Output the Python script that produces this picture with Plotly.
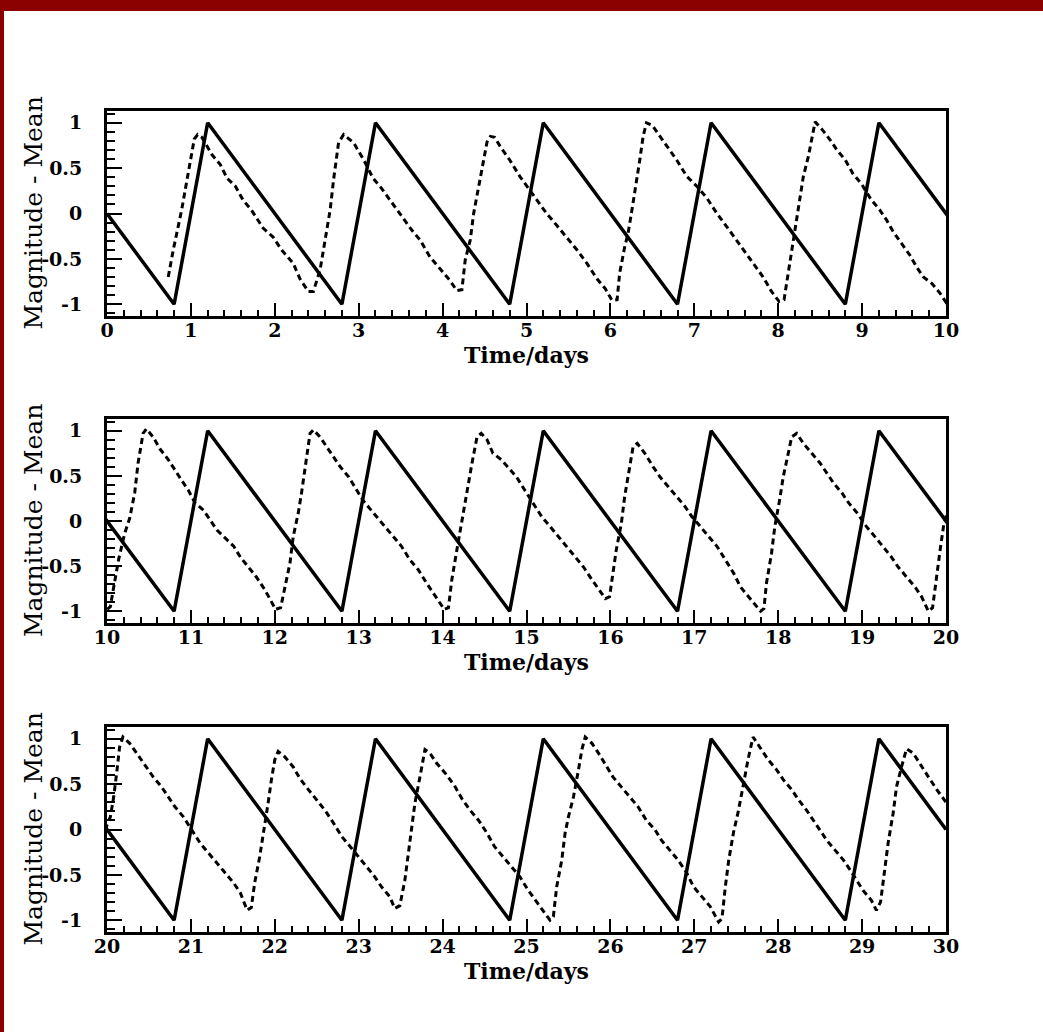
import plotly.graph_objects as go

# ---------------- data ----------------
solid_x = [0, 0.8, 1.2, 2.8, 3.2, 4.8, 5.2, 6.8, 7.2, 8.8, 9.2,
           10.8, 11.2, 12.8, 13.2, 14.8, 15.2, 16.8, 17.2, 18.8, 19.2,
           20.8, 21.2, 22.8, 23.2, 24.8, 25.2, 26.8, 27.2, 28.8, 29.2, 30]
solid_y = [0, -1, 1, -1, 1, -1, 1, -1, 1, -1, 1,
           -1, 1, -1, 1, -1, 1, -1, 1, -1, 1,
           -1, 1, -1, 1, -1, 1, -1, 1, -1, 1, 0]

dashed_x = [
    0.73, 0.79, 0.89, 0.99, 1.04, 1.08, 1.13, 1.25, 1.35, 1.43, 1.53, 1.62, 1.72, 1.86, 1.98,
    2.08, 2.22, 2.30, 2.40, 2.46, 2.54, 2.60, 2.66, 2.70, 2.76, 2.82, 2.94, 3.06, 3.17, 3.27,
    3.37, 3.49, 3.63, 3.73, 3.85, 3.97, 4.08, 4.17, 4.23, 4.27, 4.33, 4.37, 4.43, 4.47, 4.53,
    4.57, 4.62, 4.70, 4.80, 4.92, 5.02, 5.12, 5.24, 5.36, 5.48, 5.60, 5.72, 5.84, 5.94, 6.02,
    6.08, 6.11, 6.17, 6.21, 6.25, 6.31, 6.35, 6.39, 6.43, 6.50, 6.59, 6.71, 6.79, 6.91, 7.03,
    7.15, 7.27, 7.39, 7.49, 7.58, 7.70, 7.82, 7.92, 8.01, 8.07, 8.12, 8.16, 8.20, 8.26, 8.30,
    8.36, 8.40, 8.44, 8.52, 8.62, 8.70, 8.80, 8.89, 8.99, 9.11, 9.21, 9.29, 9.37, 9.47, 9.57,
    9.65, 9.73, 9.83, 9.93,
    10.00, 10.04, 10.08, 10.14, 10.21, 10.27, 10.33, 10.37, 10.43, 10.47, 10.55, 10.63, 10.73,
    10.81, 10.89, 10.97, 11.05, 11.15, 11.23, 11.31, 11.41, 11.51, 11.59, 11.68, 11.78, 11.88,
    11.94, 12.01, 12.07, 12.12, 12.18, 12.22, 12.28, 12.32, 12.38, 12.42, 12.46, 12.54, 12.62,
    12.70, 12.78, 12.88, 12.96, 13.05, 13.13, 13.21, 13.31, 13.41, 13.51, 13.61, 13.71, 13.81,
    13.89, 14.02, 14.07, 14.11, 14.17, 14.23, 14.29, 14.35, 14.41, 14.46, 14.53, 14.60, 14.70,
    14.78, 14.88, 14.98, 15.08, 15.18, 15.28, 15.38, 15.48, 15.58, 15.68, 15.78, 15.88, 15.94,
    15.99, 16.03, 16.07, 16.13, 16.17, 16.23, 16.27, 16.32, 16.41, 16.51, 16.59, 16.69, 16.79,
    16.89, 16.97, 17.07, 17.17, 17.27, 17.37, 17.47, 17.55, 17.67, 17.79, 17.83, 17.86, 17.92,
    17.96, 18.02, 18.06, 18.12, 18.16, 18.22, 18.30, 18.40, 18.50, 18.58, 18.66, 18.76, 18.84,
    18.94, 19.05, 19.15, 19.25, 19.35, 19.43, 19.53, 19.63, 19.71, 19.79, 19.84, 19.89, 19.93,
    19.97,
    20.00, 20.04, 20.08, 20.12, 20.15, 20.19, 20.27, 20.37, 20.47, 20.55, 20.65, 20.73, 20.81,
    20.91, 21.01, 21.11, 21.21, 21.31, 21.41, 21.51, 21.59, 21.67, 21.72, 21.76, 21.82, 21.88,
    21.92, 21.96, 22.00, 22.04, 22.12, 22.22, 22.30, 22.40, 22.50, 22.60, 22.70, 22.80, 22.90,
    23.00, 23.10, 23.19, 23.27, 23.37, 23.43, 23.49, 23.55, 23.59, 23.63, 23.67, 23.73, 23.79,
    23.85, 23.93, 24.05, 24.15, 24.23, 24.33, 24.43, 24.53, 24.62, 24.72, 24.82, 24.92, 25.02,
    25.12, 25.20, 25.28, 25.32, 25.36, 25.42, 25.46, 25.50, 25.56, 25.62, 25.66, 25.70, 25.78,
    25.86, 25.96, 26.03, 26.13, 26.23, 26.33, 26.43, 26.53, 26.61, 26.71, 26.81, 26.91, 26.99,
    27.09, 27.19, 27.29, 27.33, 27.37, 27.41, 27.47, 27.52, 27.58, 27.64, 27.70, 27.78, 27.88,
    27.98, 28.06, 28.16, 28.24, 28.34, 28.42, 28.50, 28.58, 28.68, 28.78, 28.86, 28.94, 29.01,
    29.11, 29.17, 29.22, 29.27, 29.31, 29.37, 29.41, 29.47, 29.53, 29.61, 29.69, 29.79, 29.89,
    29.97, 30.00]
dashed_y = [
    -0.70, -0.40, 0.04, 0.55, 0.82, 0.87, 0.84, 0.65, 0.54, 0.39, 0.30, 0.15, 0.04, -0.16, -0.26,
    -0.40, -0.55, -0.72, -0.86, -0.86, -0.62, -0.29, 0.04, 0.37, 0.78, 0.87, 0.78, 0.59, 0.39, 0.28,
    0.15, 0.00, -0.18, -0.29, -0.48, -0.61, -0.73, -0.85, -0.84, -0.51, -0.29, 0.00, 0.30, 0.52, 0.79,
    0.85, 0.84, 0.72, 0.59, 0.41, 0.28, 0.15, 0.00, -0.13, -0.26, -0.40, -0.55, -0.72, -0.83, -0.96,
    -0.95, -0.66, -0.37, -0.22, 0.00, 0.33, 0.59, 0.85, 1.00, 0.97, 0.85, 0.70, 0.59, 0.41, 0.30,
    0.17, 0.00, -0.15, -0.28, -0.40, -0.55, -0.70, -0.86, -0.97, -0.95, -0.66, -0.44, -0.16, 0.15, 0.41,
    0.63, 0.83, 1.01, 0.93, 0.81, 0.70, 0.59, 0.44, 0.33, 0.15, 0.04, -0.07, -0.20, -0.33, -0.46,
    -0.59, -0.70, -0.77, -0.88,
    -0.98, -0.95, -0.73, -0.42, -0.14, 0.03, 0.31, 0.64, 0.97, 1.02, 0.93, 0.80, 0.68,
    0.56, 0.45, 0.34, 0.20, 0.12, 0.01, -0.10, -0.19, -0.28, -0.40, -0.51, -0.62, -0.76,
    -0.87, -0.98, -0.96, -0.73, -0.47, -0.17, 0.09, 0.32, 0.69, 0.97, 1.01, 0.93, 0.82,
    0.71, 0.60, 0.49, 0.36, 0.23, 0.14, 0.05, -0.06, -0.17, -0.28, -0.43, -0.54, -0.69,
    -0.80, -0.98, -0.96, -0.65, -0.32, 0.01, 0.34, 0.64, 0.93, 0.97, 0.90, 0.75, 0.68,
    0.60, 0.49, 0.34, 0.20, 0.05, -0.06, -0.17, -0.28, -0.40, -0.51, -0.65, -0.78, -0.86,
    -0.84, -0.58, -0.32, -0.03, 0.27, 0.60, 0.82, 0.86, 0.75, 0.60, 0.49, 0.38, 0.27,
    0.16, 0.05, -0.06, -0.17, -0.28, -0.43, -0.58, -0.73, -0.86, -1.00, -0.97, -0.69, -0.36,
    -0.06, 0.25, 0.49, 0.75, 0.93, 0.97, 0.86, 0.75, 0.64, 0.53, 0.42, 0.31, 0.20,
    0.09, -0.06, -0.17, -0.28, -0.40, -0.51, -0.62, -0.73, -0.84, -1.00, -0.96, -0.58, -0.32,
    -0.06,
    0.05, 0.14, 0.36, 0.66, 0.91, 1.02, 0.95, 0.82, 0.69, 0.58, 0.47, 0.36, 0.25,
    0.14, 0.00, -0.15, -0.26, -0.37, -0.48, -0.59, -0.70, -0.89, -0.86, -0.59, -0.30, 0.03,
    0.29, 0.55, 0.77, 0.86, 0.80, 0.69, 0.56, 0.44, 0.33, 0.21, 0.07, -0.08, -0.19,
    -0.30, -0.41, -0.52, -0.63, -0.74, -0.87, -0.84, -0.56, -0.26, 0.03, 0.29, 0.58, 0.88,
    0.84, 0.73, 0.60, 0.47, 0.34, 0.21, 0.10, -0.04, -0.19, -0.30, -0.41, -0.52, -0.67,
    -0.80, -0.89, -1.00, -0.96, -0.63, -0.34, -0.04, 0.14, 0.36, 0.66, 0.88, 1.02, 0.95,
    0.84, 0.69, 0.58, 0.47, 0.36, 0.25, 0.10, 0.00, -0.12, -0.23, -0.34, -0.48, -0.63,
    -0.74, -0.85, -1.02, -0.98, -0.63, -0.34, -0.02, 0.18, 0.47, 0.77, 1.02, 0.91, 0.77,
    0.66, 0.55, 0.44, 0.33, 0.21, 0.10, 0.00, -0.12, -0.23, -0.34, -0.45, -0.56, -0.67,
    -0.78, -0.89, -0.80, -0.41, -0.15, 0.18, 0.47, 0.69, 0.89, 0.84, 0.73, 0.58, 0.44,
    0.33, 0.30]

x_ranges = [[0, 10], [10, 20], [20, 30]]
y_tickvals = [-1, -0.5, 0, 0.5, 1]
y_ticktext = ["-1", "-0.5", "0", "0.5", "1"]
x_title = "Time/days"
y_title = "Magnitude - Mean"

# ---------------- layout geometry ----------------
W, H = 1043, 1032
px_left, px_right = 107, 946
panels_px = [(111, 316), (419, 623), (727, 932)]  # top, bottom in pixels

fig = go.Figure()

tick_font = dict(family="DejaVu Serif", size=19, color="black", weight="bold")

for i, (xr, (top, bot)) in enumerate(zip(x_ranges, panels_px)):
    n = "" if i == 0 else str(i + 1)
    xa, ya = "x" + n, "y" + n
    fig.add_trace(go.Scatter(x=dashed_x, y=dashed_y, mode="lines",
                             line=dict(color="black", width=3, dash="6px,4px"),
                             xaxis=xa, yaxis=ya, showlegend=False, hoverinfo="skip"))
    fig.add_trace(go.Scatter(x=solid_x, y=solid_y, mode="lines",
                             line=dict(color="black", width=3.5),
                             xaxis=xa, yaxis=ya, showlegend=False, hoverinfo="skip"))
    dom_y = [1 - bot / H, 1 - top / H]
    xticks = list(range(xr[0], xr[1] + 1))
    fig.layout["xaxis" + n] = dict(
        domain=[px_left / W, px_right / W], range=xr, anchor=ya,
        showline=True, linewidth=3, linecolor="black", mirror=True,
        ticks="inside", ticklen=13, tickwidth=2, tickcolor="black",
        tickvals=xticks, ticktext=[str(v) for v in xticks],
        tickfont=tick_font, showgrid=False, zeroline=False,
        ticklabelstandoff=-5, automargin=False,
        minor=dict(ticks="inside", ticklen=6, tickwidth=1.5, tickcolor="black",
                   dtick=0.2, tick0=0, showgrid=False),
    )
    fig.layout["yaxis" + n] = dict(
        domain=dom_y, range=[-1.13, 1.13], anchor=xa,
        showline=True, linewidth=3, linecolor="black", mirror=True,
        ticks="inside", ticklen=15, tickwidth=2, tickcolor="black",
        tickvals=y_tickvals, ticktext=y_ticktext,
        tickfont=tick_font, showgrid=False, zeroline=False,
        ticklabelstandoff=18, automargin=False,
        minor=dict(ticks="inside", ticklen=8, tickwidth=1.5, tickcolor="black",
                   dtick=0.1, tick0=0, showgrid=False),
    )
    # axis titles
    fig.add_annotation(text=x_title, xref="paper", yref="paper",
                       x=(px_left + px_right) / 2 / W, y=1 - (bot + 39) / H,
                       showarrow=False, xanchor="center", yanchor="middle",
                       font=dict(family="DejaVu Serif", size=22, color="black", weight="bold"))
    fig.add_annotation(text=y_title, xref="paper", yref="paper",
                       x=33 / W, y=1 - ((top + bot) / 2) / H, textangle=-90,
                       showarrow=False, xanchor="center", yanchor="middle",
                       font=dict(family="DejaVu Serif", size=25, color="black"))

# dark red frame strips (top and left)
fig.add_shape(type="rect", xref="paper", yref="paper", x0=0, x1=1,
              y0=1 - 11 / H, y1=1, fillcolor="#8b0000", line=dict(width=0), layer="above")
fig.add_shape(type="rect", xref="paper", yref="paper", x0=0, x1=4 / W,
              y0=0, y1=1, fillcolor="#8b0000", line=dict(width=0), layer="above")

fig.update_layout(width=W, height=H, autosize=False,
                  margin=dict(l=0, r=0, t=0, b=0, pad=0),
                  paper_bgcolor="white", plot_bgcolor="white")

fig.write_html("out.html", config={"responsive": False, "displayModeBar": False},
               post_script="document.body.style.margin='0';document.body.style.padding='0';"
                           "document.body.style.overflow='hidden';"
                           "document.documentElement.style.overflow='hidden';")
